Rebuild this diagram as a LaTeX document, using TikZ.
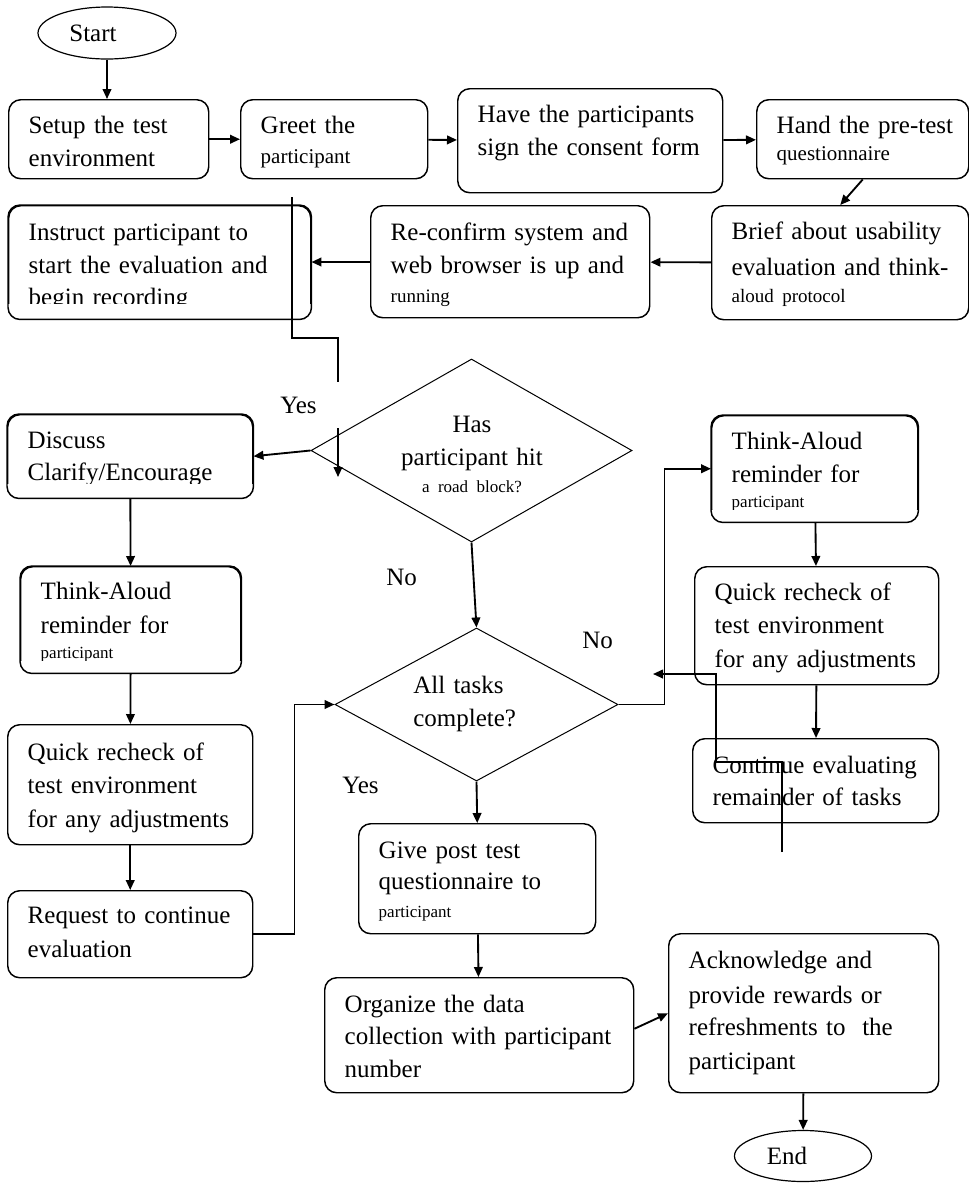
\documentclass[tikz,border=0pt]{standalone}
\usepackage{fontspec}
\setmainfont{Liberation Serif}
\usepackage{tikz}
\usetikzlibrary{shapes.geometric,arrows.meta}
\newcommand{\bigtxt}{\fontsize{18.75pt}{24.75pt}\selectfont}
\newcommand{\smalltxt}{\fontsize{15.75pt}{20pt}\selectfont}
\newcommand{\smalltxtb}{\fontsize{14.25pt}{18pt}\selectfont}
\newcommand{\tinytxt}{\fontsize{12.75pt}{16pt}\selectfont}
\tikzset{
  box/.style={draw,line width=1.1pt,rounded corners=9pt,anchor=north west,align=left,inner xsep=15pt,inner ysep=0pt,font=\bigtxt},
  boxline/.style={line width=1.1pt,rounded corners=9pt},
  term/.style={draw,ellipse,line width=0.9pt,inner sep=0pt,font=\bigtxt},
  decision/.style={draw,diamond,line width=0.75pt,inner sep=0pt},
  flow/.style={line width=1.4pt,-{Triangle[length=7.5pt,width=6.5pt]}},
  wire/.style={line width=1.4pt},
  lbl/.style={font=\bigtxt,inner sep=0pt,anchor=base west},
}
\begin{document}
\begin{tikzpicture}[x=0.75pt,y=-0.75pt]
\useasboundingbox (0,0) rectangle (969,1183);
%top row
\node[term,minimum width=103.5pt,minimum height=39pt] (start) at (107,33) {Start\hspace*{21pt}};
\node[box,text width=120pt,text height=25.5pt,text depth=33.75pt] (setup) at (8,99) {Setup the test\\environment};
\node[box,text width=110.25pt,text height=25.5pt,text depth=33.75pt] (greet) at (240,99) {Greet the\\[-2.25pt]{\smalltxt participant}};
\node[box,text width=168.75pt,text height=25.5pt,text depth=52.5pt] (consent) at (457,88) {Have the participants\\sign the consent form};
\node[box,text width=129pt,text height=25.5pt,text depth=33.75pt] (pretest) at (756,99) {\mbox{Hand the pre-test}\\[-4.5pt]{\smalltxt questionnaire}};
%second row
\node[box,text width=162.75pt,text height=25.5pt,text depth=60pt] (brief) at (711,205) {Brief about usability\\[2.25pt]evaluation and think-\\[-4.5pt]{\smalltxtb aloud protocol}};
\node[box,text width=179.25pt,text height=26.25pt,text depth=57.75pt] (recheck) at (370,205) {Re-confirm system and\\web browser is up and\\[-3pt]{\smalltxtb running}};
\begin{scope}
\clip (0,195) rectangle (320,303);
\node[box,text width=196.5pt,text height=26.25pt,text depth=58.5pt] (instruct) at (8,205) {Instruct participant to\\start the evaluation and\\[-0.75pt]begin recording};
\end{scope}
\draw[boxline] (instruct.north west) rectangle (instruct.south east);
%decisions
\node[decision,minimum width=240.75pt,minimum height=137.25pt] (roadblock) at (471.5,450.5) {};
\node[font=\bigtxt,align=center,text width=150pt,inner sep=0pt,anchor=base] (roadblock-t) at (472,432) {Has\\participant hit\\[-4.5pt]{\tinytxt a road block?}};
\node[decision,minimum width=212.25pt,minimum height=114.75pt] (alltasks) at (476.5,704.5) {};
\node[font=\bigtxt,align=left,text width=78.75pt,inner sep=0pt,anchor=base west] (alltasks-t) at (413,693) {All tasks\\complete?};
%left column
\begin{scope}
\clip (0,405) rectangle (260,483);
\node[box,text width=153.75pt,text height=25.5pt,text depth=36.75pt] (discuss) at (7,414) {Discuss\\[-0.75pt]Clarify/Encourage};
\end{scope}
\draw[boxline] (discuss.north west) rectangle (discuss.south east);
\begin{scope}
\clip (10,556) rectangle (250,660);
\node[box,text width=135pt,text height=24.75pt,text depth=54.75pt] (lta) at (20,566) {Think-Aloud\\[0.75pt]reminder for\\[-6pt]{\tinytxt participant}};
\end{scope}
\draw[boxline] (lta.north west) rectangle (lta.south east);
\node[box,text width=153.75pt,text height=27pt,text depth=63pt] (lquick) at (7,724) {Quick recheck of\\test environment\\[0.75pt]for any adjustments};
\node[box,text width=153.75pt,text height=24.75pt,text depth=40.5pt] (request) at (7,890) {Request to continue\\[0.75pt]evaluation};
%right column
\begin{scope}
\clip (700,405) rectangle (925,509);
\node[box,text width=124.5pt,text height=25.5pt,text depth=54pt] (rta) at (711,415) {Think-Aloud\\reminder for\\[-6pt]{\tinytxt participant}};
\end{scope}
\draw[boxline] (rta.north west) rectangle (rta.south east);
\node[box,text width=153pt,text height=25.5pt,text depth=63pt] (rquick) at (694,566) {Quick recheck of\\test environment\\[0.75pt]for any adjustments};
\node[box,text width=154.5pt,text height=26.25pt,text depth=36.75pt] (cont) at (692,738) {Continue evaluating\\[-0.75pt]remainder of tasks};
%bottom
\node[box,text width=147.75pt,text height=26.25pt,text depth=56.25pt] (givepost) at (358,823) {Give post test\\[-1.5pt]questionnaire to\\[-3.75pt]{\tinytxt participant}};
\node[box,text width=201.75pt,text height=26.25pt,text depth=60pt] (organize) at (324,977) {Organize the data\\[-0.75pt]collection with participant\\number};
\node[box,text width=172.5pt,text height=26.25pt,text depth=93pt] (ack) at (668,933) {Acknowledge and\\[1.5pt]provide rewards or\\[-0.75pt]refreshments to~ the\\[0.75pt]participant};
\node[term,minimum width=102.75pt,minimum height=38.25pt] (finish) at (803,1156) {End\hspace*{24pt}};
%connectors
\draw[flow] (start) -- (start |- setup.north);
\draw[flow] (setup) -- (greet);
\draw[flow] (greet) -- (consent);
\draw[flow] (consent) -- (pretest);
\draw[flow] (pretest.south) -- (brief.north);
\draw[flow] (brief) -- (recheck);
\draw[flow] (recheck) -- (instruct);
\coordinate (feed-a) at (292,197);
\coordinate (feed-b) at (338,338);
\coordinate (feed-c) at (338,382);
\coordinate (feed-d) at (338,428);
\coordinate (feed-e) at (338,477);
\draw[wire] (feed-a) |- (feed-b) -- (feed-c);
\draw[flow] (feed-d) -- (feed-e);
\draw[flow] (roadblock.west) -- (discuss.east);
\draw[flow] (roadblock.south) -- (alltasks.north);
\draw[flow] (discuss) -- (lta);
\draw[flow] (lta) -- (lquick);
\draw[flow] (lquick) -- (request);
\draw[flow] (request.east) -- ++(41,0) |- (alltasks.west);
\draw[flow] (alltasks.east) -- ++(46,0) |- (rta.west);
\draw[flow] (rta) -- (rquick);
\draw[flow] (rquick) -- (cont);
\coordinate (loop-a) at (782,852);
\coordinate (loop-b) at (716,762);
\coordinate (loop-c) at (716,674);
\coordinate (loop-d) at (653,674);
\draw[flow] (loop-a) |- (loop-b) -- (loop-c) -- (loop-d);
\draw[flow] (alltasks.south) -- (givepost.north);
\draw[flow] (givepost) -- (organize);
\draw[flow] ([shift={(0,-6.5)}]organize.east) -- (ack.west);
\draw[flow] (ack) -- (finish);
%labels
\node[lbl] (yes-a) at (280,413) {Yes};
\node[lbl] (no-a) at (386,585) {No};
\node[lbl] (no-b) at (582,648) {No};
\node[lbl] (yes-b) at (342,793) {Yes};
\end{tikzpicture}
\end{document}
